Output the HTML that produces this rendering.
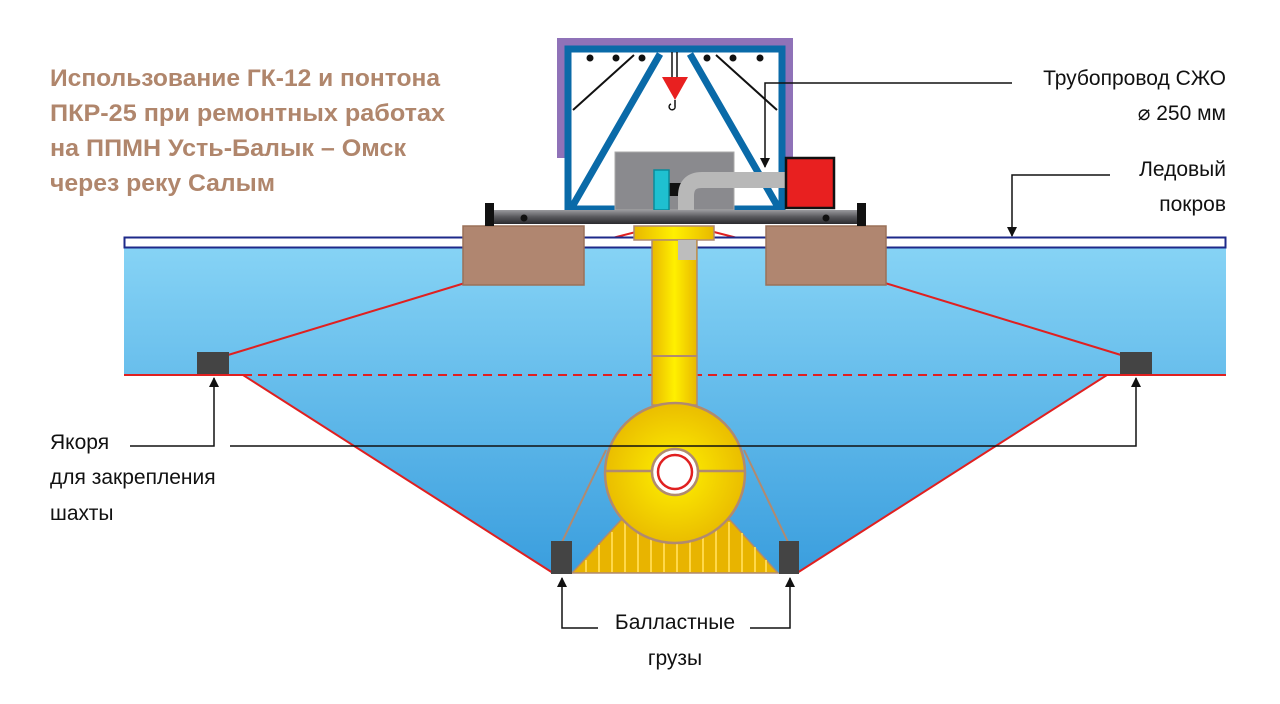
<!DOCTYPE html>
<html><head><meta charset="utf-8"><style>
html,body{margin:0;padding:0;background:#fff;}
svg{display:block;font-family:"Liberation Sans",sans-serif;}
</style></head><body>
<svg width="1280" height="704" viewBox="0 0 1280 704" xmlns="http://www.w3.org/2000/svg">
<defs>
<linearGradient id="wat" gradientUnits="userSpaceOnUse" x1="0" y1="247" x2="0" y2="573">
<stop offset="0" stop-color="#86d3f5"/><stop offset="1" stop-color="#3a9ede"/></linearGradient>
<radialGradient id="ball" cx="0.5" cy="0.5" r="0.55"><stop offset="0" stop-color="#fff200"/><stop offset="1" stop-color="#e8b800"/></radialGradient>
<linearGradient id="shaft" x1="0" y1="0" x2="1" y2="0"><stop offset="0" stop-color="#e8b800"/><stop offset="0.5" stop-color="#fff000"/><stop offset="1" stop-color="#e8b800"/></linearGradient>
<linearGradient id="beam" x1="0" y1="0" x2="0" y2="1"><stop offset="0" stop-color="#9a9a9e"/><stop offset="0.5" stop-color="#58585c"/><stop offset="1" stop-color="#2a2a2e"/></linearGradient>
<marker id="ar" viewBox="0 0 10 10" refX="9" refY="5" markerWidth="10" markerHeight="10" markerUnits="userSpaceOnUse" orient="auto"><path d="M0,0 L10,5 L0,10 z" fill="#111"/></marker>
</defs>
<path d="M124,247 H1226 V375 H1107 L797,573 H553 L243,375 H124 Z" fill="url(#wat)"/>
<path d="M124,375 H243 L553,573 M797,573 L1107,375 H1226" fill="none" stroke="#e02020" stroke-width="2"/>
<line x1="243" y1="375" x2="1107" y2="375" stroke="#e02020" stroke-width="2" stroke-dasharray="9,6"/>
<path d="M228,355 L465,283 M585,245 L636,232 M1121,355 L885,283 M765,245 L714,232" stroke="#e02020" stroke-width="2" fill="none"/>
<rect x="124.5" y="237.5" width="1101" height="10" fill="#fff" stroke="#1e2a8a" stroke-width="2"/>
<rect x="197" y="352" width="32" height="22" fill="#444"/>
<rect x="1120" y="352" width="32" height="22" fill="#444"/>
<rect x="463" y="226" width="121" height="59" fill="#b08670" stroke="#9a7058" stroke-width="1.5"/>
<rect x="766" y="226" width="120" height="59" fill="#b08670" stroke="#9a7058" stroke-width="1.5"/>
<rect x="634" y="226" width="80" height="14" fill="url(#shaft)" stroke="#b08a70" stroke-width="1.5"/>
<rect x="652" y="240" width="45" height="165" fill="url(#shaft)" stroke="#b08a70" stroke-width="1.5"/>
<line x1="652" y1="356" x2="697" y2="356" stroke="#b08a70" stroke-width="2"/>
<rect x="678" y="240" width="18" height="20" fill="#bdbdbd"/>
<path d="M621,520 L730,520 L778,573 L572,573 Z" fill="#e8b400" stroke="#b08a70" stroke-width="1.5"/>
<g stroke="#ffd84a" stroke-width="2">
<line x1="586" y1="560" x2="586" y2="572"/><line x1="599" y1="545" x2="599" y2="572"/><line x1="612" y1="532" x2="612" y2="572"/><line x1="625" y1="522" x2="625" y2="572"/><line x1="638" y1="522" x2="638" y2="572"/><line x1="651" y1="522" x2="651" y2="572"/><line x1="664" y1="522" x2="664" y2="572"/><line x1="677" y1="522" x2="677" y2="572"/><line x1="690" y1="522" x2="690" y2="572"/><line x1="703" y1="522" x2="703" y2="572"/><line x1="716" y1="522" x2="716" y2="572"/><line x1="729" y1="522" x2="729" y2="572"/><line x1="742" y1="533" x2="742" y2="572"/><line x1="755" y1="547" x2="755" y2="572"/><line x1="766" y1="560" x2="766" y2="572"/>
</g>
<circle cx="675" cy="473" r="70" fill="url(#ball)" stroke="#b08a70" stroke-width="2.5"/>
<line x1="605" y1="471" x2="745" y2="471" stroke="#b08a70" stroke-width="2.5"/>
<circle cx="675" cy="472" r="23" fill="#fff" stroke="#b08a70" stroke-width="2.5"/>
<circle cx="675" cy="472" r="17" fill="#fff" stroke="#e02020" stroke-width="2.5"/>
<path d="M562,542 L606,450 M788,542 L744,450" stroke="#b08a70" stroke-width="2"/>
<rect x="551" y="541" width="21" height="33" fill="#444"/>
<rect x="779" y="541" width="20" height="33" fill="#444"/>
<rect x="557" y="38" width="236" height="120" fill="#8f72b8"/>
<rect x="568" y="49" width="214" height="160" fill="#fff" stroke="#0a6aa8" stroke-width="7"/>
<path d="M572,207 L660,54 M690,54 L778,207" stroke="#0a6aa8" stroke-width="7"/>
<path d="M573,110 L634,55 M716,55 L777,110" stroke="#111" stroke-width="2"/>
<g fill="#111"><circle cx="590" cy="58" r="3.5"/><circle cx="616" cy="58" r="3.5"/><circle cx="642" cy="58" r="3.5"/><circle cx="707" cy="58" r="3.5"/><circle cx="733" cy="58" r="3.5"/><circle cx="760" cy="58" r="3.5"/></g>
<path d="M672,52 V78 M677,52 V78" stroke="#111" stroke-width="1.5"/>
<path d="M662,77 L688,77 L675,100 Z" fill="#e82020"/>
<path d="M675,100 V106 A3,3 0 1 1 671,104" fill="none" stroke="#111" stroke-width="1.5"/>
<rect x="615" y="152" width="119" height="58" fill="#8a8a8e" stroke="#aaa" stroke-width="1"/>
<rect x="669" y="183" width="22" height="13" fill="#111"/>
<rect x="654" y="170" width="15" height="40" fill="#1fc0d0" stroke="#0a8a9a" stroke-width="1.5"/>
<path d="M686,210 V196 Q686,180 702,180 H786" fill="none" stroke="#b8b8b8" stroke-width="16"/>
<rect x="786" y="158" width="48" height="50" fill="#e82020" stroke="#111" stroke-width="2.5"/>
<rect x="490" y="210" width="372" height="14" fill="url(#beam)"/>
<rect x="485" y="203" width="9" height="23" fill="#111"/>
<rect x="857" y="203" width="9" height="23" fill="#111"/>
<circle cx="524" cy="218" r="3.5" fill="#111"/><circle cx="826" cy="218" r="3.5" fill="#111"/>
<g stroke="#111" stroke-width="1.5" fill="none">
<path d="M1012,83 H765 V167" marker-end="url(#ar)"/>
<path d="M1110,175 H1012 V236" marker-end="url(#ar)"/>
<path d="M130,446 H214 V378" marker-end="url(#ar)"/>
<path d="M230,446 H1136 V378" marker-end="url(#ar)"/>
<path d="M598,628 H562 V578" marker-end="url(#ar)"/>
<path d="M750,628 H790 V578" marker-end="url(#ar)"/>
</g>
<g fill="#b0866c" font-weight="bold" font-size="24">
<text x="50" y="86" textLength="390" lengthAdjust="spacingAndGlyphs">Использование ГК-12 и понтона</text>
<text x="50" y="121" textLength="395" lengthAdjust="spacingAndGlyphs">ПКР-25 при ремонтных работах</text>
<text x="50" y="156" textLength="356" lengthAdjust="spacingAndGlyphs">на ППМН Усть-Балык – Омск</text>
<text x="50" y="191" textLength="225" lengthAdjust="spacingAndGlyphs">через реку Салым</text>
</g>
<g fill="#111" font-size="21">
<text x="1226" y="85" text-anchor="end">Трубопровод СЖО</text>
<text x="1226" y="120" text-anchor="end">⌀ 250 мм</text>
<text x="1226" y="176" text-anchor="end">Ледовый</text>
<text x="1226" y="211" text-anchor="end">покров</text>
<text x="50" y="449">Якоря</text>
<text x="50" y="484">для закрепления</text>
<text x="50" y="520">шахты</text>
<text x="675" y="629" text-anchor="middle">Балластные</text>
<text x="675" y="665" text-anchor="middle">грузы</text>
</g>
</svg>
</body></html>
